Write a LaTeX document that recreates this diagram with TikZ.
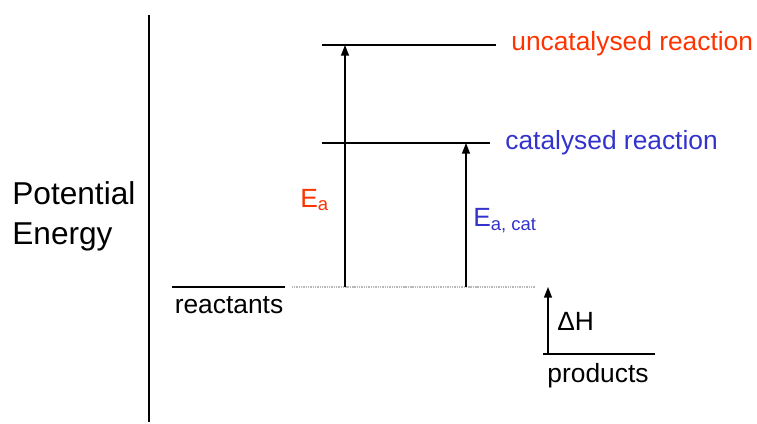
\documentclass[tikz,border=0pt]{standalone}
\usepackage{fontspec}
\setmainfont{Liberation Sans}
\usetikzlibrary{arrows.meta}

\definecolor{uncatred}{RGB}{255,51,0}
\definecolor{catblue}{RGB}{51,51,204}

\begin{document}
\begin{tikzpicture}[x=0.02cm, y=-0.02cm,
		level/.style={line width=0.7pt},
		rise/.style={line width=0.7pt, -{Triangle[width=4.5pt,length=6pt]}},
		lab/.style={inner sep=0pt, font=\fontsize{15}{18}\selectfont}]
		
		\useasboundingbox (0,0) rectangle (757,423);
		
		%
		\coordinate (Y1) at (149,15);
		\coordinate (Y2) at (149,422);
		
		%
		\coordinate (R1) at (172,287);
		\coordinate (R2) at (285,287);
		\coordinate (D1) at (292,287);
		\coordinate (D2) at (535,287);
		\coordinate (U1) at (322,45);
		\coordinate (U2) at (496,45);
		\coordinate (C1) at (322,143);
		\coordinate (C2) at (490,143);
		\coordinate (P1) at (543,354);
		\coordinate (P2) at (655,354);
		
		%
		\coordinate (A1) at (345,287);
		\coordinate (A2) at (345,45);
		\coordinate (B1) at (466,287);
		\coordinate (B2) at (466,143);
		\coordinate (H1) at (548,354);
		\coordinate (H2) at (548,287);
		
		\draw[line width=1pt] (Y1) -- (Y2);
		
		\draw[level] (R1) -- (R2);
		\draw[gray!55, line width=0.8pt, dash pattern=on 0.6pt off 0.4pt] (D1) -- (D2);
		\draw[level] (U1) -- (U2);
		\draw[level] (C1) -- (C2);
		\draw[level] (P1) -- (P2);
		
		\draw[rise] (A1) -- (A2);
		\draw[rise] (B1) -- (B2);
		\draw[rise] (H1) -- (H2);
		
		\node[lab, anchor=west, font=\fontsize{18}{22.7}\selectfont, align=left] (pe) at (12,216) {Potential\\Energy};
		
		\node[lab, anchor=west, text=uncatred] (ul) at (511,44) {uncatalysed reaction};
		\node[lab, anchor=west, text=catblue] (cl) at (505,143) {catalysed reaction};
		\node[lab, anchor=north] (rl) at (229,296) {reactants};
		\node[lab, anchor=north] (pl) at (598,363) {products};
		\node[lab, anchor=west] (hl) at (557,321) {ΔH};
		
		\node[lab, anchor=west, text=uncatred] (ea) at (300,200) {E\textsubscript{a}};
		\node[lab, anchor=west, text=catblue] (ec) at (473,221) {E\textsubscript{a, cat}};
		
	\end{tikzpicture}
\end{document}
